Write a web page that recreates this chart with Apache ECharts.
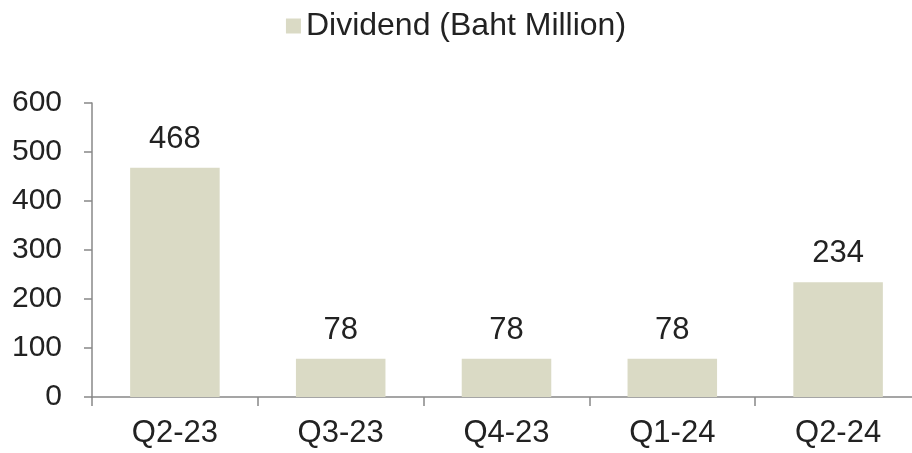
<!DOCTYPE html>
<html>
<head>
<meta charset="utf-8">
<script src="https://cdn.jsdelivr.net/npm/echarts@6/dist/echarts.min.js"></script>
<style>
html,body{margin:0;padding:0;background:#fff;}
#main{width:912px;height:453px;}
</style>
</head>
<body>
<div id="main"></div>
<script>
var categories=['Q2-23','Q3-23','Q4-23','Q1-24','Q2-24'];
var dividend=[468,78,78,78,234];
var yTicks=[0,100,200,300,400,500,600];

var chart=echarts.init(document.getElementById('main'));
var font='"Liberation Sans", Arial, sans-serif';
var option={
    animation:false,
    legend:{
        top:5,
        left:'center',
        itemWidth:15,
        itemHeight:15,
        itemGap:10,
        icon:'rect',
        textStyle:{fontFamily:font,fontSize:32,color:'#222'},
        data:['Dividend (Baht Million)']
    },
    grid:{left:92,width:829,top:103,bottom:56,outerBoundsMode:'none',containLabel:false},
    xAxis:{
        type:'category',
        data:categories,
        axisLine:{lineStyle:{color:'#888',width:1.5}},
        axisTick:{show:true,length:9,alignWithLabel:false,lineStyle:{color:'#888',width:1.5}},
        axisLabel:{fontFamily:font,fontSize:31,color:'#222',margin:21}
    },
    yAxis:{
        type:'value',
        min:yTicks[0],
        max:yTicks[yTicks.length-1],
        interval:100,
        splitLine:{show:false},
        axisLine:{show:true,lineStyle:{color:'#888',width:1.5}},
        axisTick:{show:true,length:8,lineStyle:{color:'#888',width:1.5}},
        axisLabel:{fontFamily:font,fontSize:30,color:'#222',margin:30}
    },
    series:[{
        name:'Dividend (Baht Million)',
        type:'bar',
        data:dividend,
        barWidth:'54%',
        itemStyle:{color:'#dadac5'},
        label:{show:true,position:'top',distance:13,fontFamily:font,fontSize:31,color:'#222'}
    }]
};
chart.setOption(option);
</script>
</body>
</html>
